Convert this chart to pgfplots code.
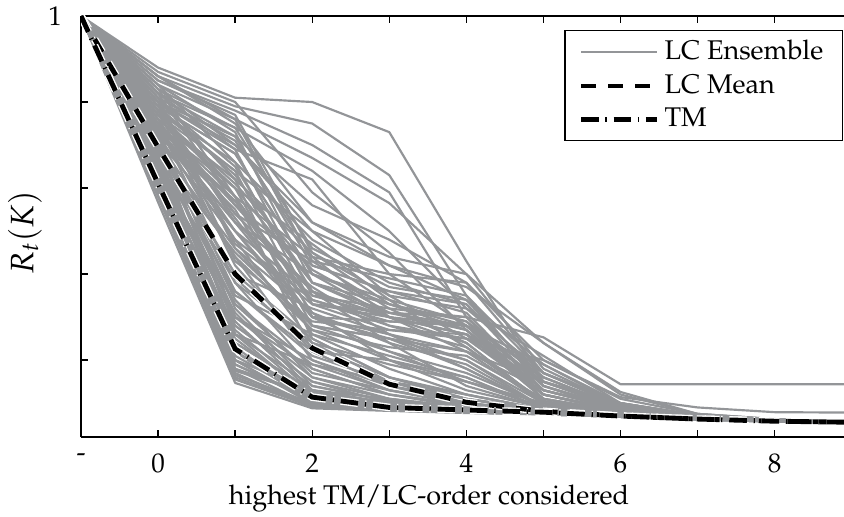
\documentclass[border=0pt]{standalone}
\usepackage[T1]{fontenc}
\usepackage{mathpazo}
\usepackage{pgfplots}
\pgfplotsset{compat=1.18}
\definecolor{ensgray}{RGB}{147,149,152}
\pgfplotsset{ens/.style={ensgray, line width=0.8pt, line join=round, forget plot}}
\tikzset{meanst/.style={black, line width=1.8pt, dash pattern=on 5.5pt off 4.5pt}}
\tikzset{tmst/.style={black, line width=1.8pt, dash pattern=on 6.5pt off 2.5pt on 0.5pt off 2.5pt}}
\begin{document}
\begin{tikzpicture}
\begin{axis}[
  name=ax, scale only axis, width=282.3pt, height=155.8pt,
  xmin=-1, xmax=8.9, ymin=0.021, ymax=1,
  axis y line*=left, axis x line*=box,
  xtick={-1,0,1,2,3,4,5,6,7,8}, xticklabels={-,0,,2,,4,,6,,8},
  ytick={0.2,0.4,0.6,0.8,1}, yticklabels={,,,,1},
  major tick length=2.5pt,
  tick style={black, line width=0.5pt},
  axis line style={black, line width=0.5pt, -},
  xlabel={highest TM/LC-order considered},
  ylabel={$R_t(K)$},
  every axis x label/.style={at={(axis description cs:0.456,-0.145)}, anchor=center},
  every axis y label/.style={at={(axis description cs:-0.0735,0.4846)}, anchor=center, rotate=90, font=\large},
  xticklabel style={yshift=-2.6pt},
  yticklabel style={xshift=-3.5pt},
  legend cell align=left,
  legend style={at={(rel axis cs:1,1)}, anchor=north east, xshift=-0.4pt, yshift=-5.2pt,
    draw=black, line width=0.5pt, inner xsep=5pt, inner ysep=1.5pt, font=\normalsize},
  legend image code/.code={\draw[#1] (0pt,0pt) -- (28pt,0pt);},
]
\addlegendimage{ensgray, line width=0.8pt}\addlegendentry{LC Ensemble}
\addlegendimage{meanst}\addlegendentry{LC Mean}
\addlegendimage{tmst}\addlegendentry{TM}
% ---- LC ensemble: low group
\addplot[ens] coordinates {(-1,1)(0,.567)(1,.147)(2,.088)(3,.082)(4,.077)(5,.074)(6,.068)(7,.062)(8,.057)(9,.054)};
\addplot[ens] coordinates {(-1,1)(0,.58)(1,.155)(2,.092)(3,.084)(4,.078)(5,.075)(6,.069)(7,.063)(8,.058)(9,.055)};
\addplot[ens] coordinates {(-1,1)(0,.60)(1,.16)(2,.095)(3,.086)(4,.079)(5,.077)(6,.070)(7,.064)(8,.059)(9,.056)};
\addplot[ens] coordinates {(-1,1)(0,.59)(1,.17)(2,.090)(3,.083)(4,.078)(5,.074)(6,.068)(7,.062)(8,.057)(9,.054)};
\addplot[ens] coordinates {(-1,1)(0,.62)(1,.165)(2,.10)(3,.088)(4,.080)(5,.075)(6,.069)(7,.063)(8,.058)(9,.055)};
\addplot[ens] coordinates {(-1,1)(0,.61)(1,.18)(2,.094)(3,.085)(4,.079)(5,.077)(6,.070)(7,.064)(8,.059)(9,.056)};
\addplot[ens] coordinates {(-1,1)(0,.64)(1,.19)(2,.105)(3,.09)(4,.081)(5,.079)(6,.072)(7,.065)(8,.060)(9,.057)};
\addplot[ens] coordinates {(-1,1)(0,.60)(1,.20)(2,.098)(3,.087)(4,.080)(5,.075)(6,.069)(7,.063)(8,.058)(9,.055)};
\addplot[ens] coordinates {(-1,1)(0,.63)(1,.21)(2,.11)(3,.092)(4,.082)(5,.077)(6,.070)(7,.064)(8,.059)(9,.056)};
\addplot[ens] coordinates {(-1,1)(0,.66)(1,.20)(2,.10)(3,.089)(4,.080)(5,.074)(6,.068)(7,.062)(8,.057)(9,.054)};
\addplot[ens] coordinates {(-1,1)(0,.62)(1,.22)(2,.12)(3,.095)(4,.083)(5,.079)(6,.072)(7,.065)(8,.060)(9,.057)};
\addplot[ens] coordinates {(-1,1)(0,.65)(1,.23)(2,.105)(3,.09)(4,.081)(5,.075)(6,.069)(7,.063)(8,.058)(9,.055)};
\addplot[ens] coordinates {(-1,1)(0,.68)(1,.24)(2,.13)(3,.10)(4,.085)(5,.081)(6,.073)(7,.066)(8,.060)(9,.057)};
\addplot[ens] coordinates {(-1,1)(0,.64)(1,.25)(2,.115)(3,.093)(4,.082)(5,.077)(6,.070)(7,.064)(8,.059)(9,.056)};
\addplot[ens] coordinates {(-1,1)(0,.67)(1,.26)(2,.14)(3,.105)(4,.088)(5,.079)(6,.072)(7,.065)(8,.060)(9,.057)};
\addplot[ens] coordinates {(-1,1)(0,.63)(1,.27)(2,.12)(3,.095)(4,.083)(5,.075)(6,.069)(7,.063)(8,.058)(9,.055)};
\addplot[ens] coordinates {(-1,1)(0,.70)(1,.28)(2,.15)(3,.11)(4,.09)(5,.081)(6,.073)(7,.066)(8,.060)(9,.057)};
\addplot[ens] coordinates {(-1,1)(0,.66)(1,.29)(2,.125)(3,.097)(4,.084)(5,.077)(6,.070)(7,.064)(8,.059)(9,.056)};
\addplot[ens] coordinates {(-1,1)(0,.69)(1,.30)(2,.16)(3,.12)(4,.095)(5,.079)(6,.072)(7,.065)(8,.060)(9,.057)};
\addplot[ens] coordinates {(-1,1)(0,.65)(1,.31)(2,.13)(3,.10)(4,.085)(5,.074)(6,.068)(7,.062)(8,.057)(9,.054)};
\addplot[ens] coordinates {(-1,1)(0,.72)(1,.32)(2,.14)(3,.105)(4,.088)(5,.075)(6,.069)(7,.063)(8,.058)(9,.055)};
\addplot[ens] coordinates {(-1,1)(0,.68)(1,.33)(2,.17)(3,.13)(4,.10)(5,.081)(6,.073)(7,.066)(8,.060)(9,.057)};
\addplot[ens] coordinates {(-1,1)(0,.61)(1,.24)(2,.13)(3,.098)(4,.084)(5,.077)(6,.070)(7,.064)(8,.059)(9,.056)};
\addplot[ens] coordinates {(-1,1)(0,.59)(1,.19)(2,.11)(3,.09)(4,.08)(5,.075)(6,.069)(7,.063)(8,.058)(9,.055)};
\addplot[ens] coordinates {(-1,1)(0,.70)(1,.22)(2,.10)(3,.088)(4,.08)(5,.074)(6,.068)(7,.062)(8,.057)(9,.054)};
\addplot[ens] coordinates {(-1,1)(0,.58)(1,.175)(2,.12)(3,.095)(4,.083)(5,.079)(6,.072)(7,.065)(8,.060)(9,.057)};
\addplot[ens] coordinates {(-1,1)(0,.73)(1,.26)(2,.11)(3,.09)(4,.081)(5,.077)(6,.070)(7,.064)(8,.059)(9,.056)};
\addplot[ens] coordinates {(-1,1)(0,.63)(1,.30)(2,.18)(3,.12)(4,.09)(5,.081)(6,.073)(7,.066)(8,.060)(9,.057)};
\addplot[ens] coordinates {(-1,1)(0,.71)(1,.34)(2,.16)(3,.11)(4,.087)(5,.075)(6,.069)(7,.063)(8,.058)(9,.055)};
\addplot[ens] coordinates {(-1,1)(0,.60)(1,.28)(2,.15)(3,.10)(4,.085)(5,.077)(6,.070)(7,.064)(8,.059)(9,.056)};
\addplot[ens] coordinates {(-1,1)(0,.67)(1,.20)(2,.13)(3,.11)(4,.09)(5,.079)(6,.072)(7,.065)(8,.060)(9,.057)};
\addplot[ens] coordinates {(-1,1)(0,.74)(1,.30)(2,.20)(3,.14)(4,.10)(5,.081)(6,.073)(7,.066)(8,.060)(9,.057)};
\addplot[ens] coordinates {(-1,1)(0,.62)(1,.26)(2,.19)(3,.15)(4,.11)(5,.079)(6,.072)(7,.065)(8,.060)(9,.057)};
\addplot[ens] coordinates {(-1,1)(0,.69)(1,.18)(2,.12)(3,.10)(4,.086)(5,.075)(6,.069)(7,.063)(8,.058)(9,.055)};
% ---- LC ensemble: middle group
\addplot[ens] coordinates {(-1,1)(0,.72)(1,.36)(2,.22)(3,.14)(4,.10)(5,.082)(6,.072)(7,.065)(8,.060)(9,.057)};
\addplot[ens] coordinates {(-1,1)(0,.75)(1,.38)(2,.18)(3,.12)(4,.095)(5,.08)(6,.071)(7,.064)(8,.059)(9,.056)};
\addplot[ens] coordinates {(-1,1)(0,.70)(1,.40)(2,.25)(3,.16)(4,.11)(5,.085)(6,.073)(7,.065)(8,.060)(9,.057)};
\addplot[ens] coordinates {(-1,1)(0,.78)(1,.42)(2,.22)(3,.20)(4,.13)(5,.09)(6,.075)(7,.066)(8,.060)(9,.057)};
\addplot[ens] coordinates {(-1,1)(0,.74)(1,.44)(2,.20)(3,.13)(4,.095)(5,.08)(6,.071)(7,.064)(8,.059)(9,.056)};
\addplot[ens] coordinates {(-1,1)(0,.68)(1,.45)(2,.28)(3,.22)(4,.15)(5,.10)(6,.078)(7,.066)(8,.060)(9,.057)};
\addplot[ens] coordinates {(-1,1)(0,.80)(1,.47)(2,.33)(3,.30)(4,.26)(5,.12)(6,.085)(7,.068)(8,.061)(9,.057)};
\addplot[ens] coordinates {(-1,1)(0,.76)(1,.48)(2,.24)(3,.15)(4,.10)(5,.082)(6,.072)(7,.065)(8,.059)(9,.056)};
\addplot[ens] coordinates {(-1,1)(0,.71)(1,.50)(2,.28)(3,.25)(4,.22)(5,.10)(6,.077)(7,.066)(8,.060)(9,.057)};
\addplot[ens] coordinates {(-1,1)(0,.79)(1,.52)(2,.30)(3,.25)(4,.18)(5,.09)(6,.074)(7,.065)(8,.059)(9,.056)};
\addplot[ens] coordinates {(-1,1)(0,.77)(1,.53)(2,.30)(3,.29)(4,.28)(5,.17)(6,.10)(7,.072)(8,.062)(9,.058)};
\addplot[ens] coordinates {(-1,1)(0,.73)(1,.55)(2,.26)(3,.18)(4,.12)(5,.085)(6,.073)(7,.065)(8,.059)(9,.056)};
\addplot[ens] coordinates {(-1,1)(0,.82)(1,.56)(2,.36)(3,.30)(4,.28)(5,.15)(6,.09)(7,.070)(8,.061)(9,.057)};
\addplot[ens] coordinates {(-1,1)(0,.75)(1,.58)(2,.33)(3,.27)(4,.25)(5,.20)(6,.11)(7,.075)(8,.063)(9,.058)};
\addplot[ens] coordinates {(-1,1)(0,.69)(1,.40)(2,.32)(3,.26)(4,.20)(5,.09)(6,.075)(7,.065)(8,.059)(9,.056)};
\addplot[ens] coordinates {(-1,1)(0,.81)(1,.46)(2,.27)(3,.23)(4,.21)(5,.11)(6,.08)(7,.067)(8,.060)(9,.057)};
\addplot[ens] coordinates {(-1,1)(0,.76)(1,.50)(2,.30)(3,.26)(4,.22)(5,.13)(6,.085)(7,.068)(8,.060)(9,.057)};
\addplot[ens] coordinates {(-1,1)(0,.70)(1,.35)(2,.26)(3,.21)(4,.16)(5,.085)(6,.073)(7,.065)(8,.059)(9,.056)};
\addplot[ens] coordinates {(-1,1)(0,.78)(1,.54)(2,.36)(3,.24)(4,.14)(5,.088)(6,.074)(7,.065)(8,.059)(9,.056)};
\addplot[ens] coordinates {(-1,1)(0,.74)(1,.60)(2,.38)(3,.30)(4,.26)(5,.12)(6,.082)(7,.067)(8,.060)(9,.057)};
\addplot[ens] coordinates {(-1,1)(0,.80)(1,.43)(2,.29)(3,.27)(4,.26)(5,.16)(6,.09)(7,.069)(8,.061)(9,.057)};
\addplot[ens] coordinates {(-1,1)(0,.72)(1,.57)(2,.31)(3,.20)(4,.15)(5,.10)(6,.078)(7,.066)(8,.060)(9,.057)};
% ---- LC ensemble: upper-middle group
\addplot[ens] coordinates {(-1,1)(0,.80)(1,.72)(2,.42)(3,.36)(4,.33)(5,.16)(6,.09)(7,.069)(8,.061)(9,.057)};
\addplot[ens] coordinates {(-1,1)(0,.83)(1,.70)(2,.52)(3,.44)(4,.40)(5,.18)(6,.095)(7,.07)(8,.061)(9,.057)};
\addplot[ens] coordinates {(-1,1)(0,.78)(1,.66)(2,.48)(3,.38)(4,.33)(5,.14)(6,.088)(7,.068)(8,.060)(9,.057)};
\addplot[ens] coordinates {(-1,1)(0,.85)(1,.77)(2,.45)(3,.33)(4,.28)(5,.11)(6,.08)(7,.067)(8,.060)(9,.057)};
\addplot[ens] coordinates {(-1,1)(0,.76)(1,.62)(2,.45)(3,.35)(4,.32)(5,.21)(6,.10)(7,.071)(8,.062)(9,.058)};
\addplot[ens] coordinates {(-1,1)(0,.79)(1,.68)(2,.40)(3,.34)(4,.29)(5,.12)(6,.082)(7,.067)(8,.060)(9,.057)};
\addplot[ens] coordinates {(-1,1)(0,.82)(1,.74)(2,.46)(3,.37)(4,.34)(5,.15)(6,.09)(7,.069)(8,.061)(9,.057)};
\addplot[ens] coordinates {(-1,1)(0,.75)(1,.56)(2,.42)(3,.36)(4,.31)(5,.13)(6,.085)(7,.068)(8,.060)(9,.057)};
\addplot[ens] coordinates {(-1,1)(0,.77)(1,.64)(2,.50)(3,.42)(4,.37)(5,.24)(6,.12)(7,.075)(8,.063)(9,.058)};
\addplot[ens] coordinates {(-1,1)(0,.81)(1,.71)(2,.44)(3,.40)(4,.38)(5,.17)(6,.095)(7,.07)(8,.061)(9,.057)};
\addplot[ens] coordinates {(-1,1)(0,.74)(1,.52)(2,.40)(3,.33)(4,.27)(5,.11)(6,.08)(7,.067)(8,.060)(9,.057)};
\addplot[ens] coordinates {(-1,1)(0,.78)(1,.58)(2,.44)(3,.30)(4,.24)(5,.10)(6,.078)(7,.066)(8,.060)(9,.057)};
\addplot[ens] coordinates {(-1,1)(0,.80)(1,.65)(2,.36)(3,.28)(4,.25)(5,.12)(6,.082)(7,.067)(8,.060)(9,.057)};
\addplot[ens] coordinates {(-1,1)(0,.73)(1,.50)(2,.35)(3,.32)(4,.30)(5,.14)(6,.086)(7,.068)(8,.060)(9,.057)};
\addplot[ens] coordinates {(-1,1)(0,.84)(1,.73)(2,.38)(3,.31)(4,.28)(5,.12)(6,.08)(7,.067)(8,.060)(9,.057)};
\addplot[ens] coordinates {(-1,1)(0,.76)(1,.60)(2,.47)(3,.34)(4,.23)(5,.10)(6,.077)(7,.066)(8,.060)(9,.057)};
\addplot[ens] coordinates {(-1,1)(0,.72)(1,.48)(2,.34)(3,.28)(4,.23)(5,.105)(6,.078)(7,.066)(8,.060)(9,.057)};
\addplot[ens] coordinates {(-1,1)(0,.79)(1,.63)(2,.38)(3,.33)(4,.29)(5,.16)(6,.09)(7,.069)(8,.061)(9,.057)};
\addplot[ens] coordinates {(-1,1)(0,.75)(1,.54)(2,.43)(3,.39)(4,.35)(5,.17)(6,.092)(7,.069)(8,.061)(9,.057)};
\addplot[ens] coordinates {(-1,1)(0,.82)(1,.69)(2,.35)(3,.30)(4,.26)(5,.11)(6,.08)(7,.067)(8,.060)(9,.057)};
\addplot[ens] coordinates {(-1,1)(0,.70)(1,.46)(2,.31)(3,.24)(4,.19)(5,.09)(6,.075)(7,.065)(8,.059)(9,.056)};
\addplot[ens] coordinates {(-1,1)(0,.77)(1,.61)(2,.41)(3,.31)(4,.27)(5,.13)(6,.085)(7,.068)(8,.060)(9,.057)};
\addplot[ens] coordinates {(-1,1)(0,.73)(1,.52)(2,.37)(3,.26)(4,.18)(5,.09)(6,.075)(7,.065)(8,.059)(9,.056)};
\addplot[ens] coordinates {(-1,1)(0,.86)(1,.76)(2,.43)(3,.32)(4,.24)(5,.10)(6,.078)(7,.066)(8,.060)(9,.057)};
\addplot[ens] coordinates {(-1,1)(0,.71)(1,.44)(2,.27)(3,.20)(4,.16)(5,.088)(6,.074)(7,.065)(8,.059)(9,.056)};
\addplot[ens] coordinates {(-1,1)(0,.74)(1,.57)(2,.34)(3,.29)(4,.28)(5,.19)(6,.10)(7,.071)(8,.062)(9,.058)};
\addplot[ens] coordinates {(-1,1)(0,.69)(1,.38)(2,.24)(3,.19)(4,.15)(5,.09)(6,.075)(7,.065)(8,.059)(9,.056)};
\addplot[ens] coordinates {(-1,1)(0,.66)(1,.36)(2,.21)(3,.15)(4,.12)(5,.085)(6,.073)(7,.065)(8,.059)(9,.056)};
\addplot[ens] coordinates {(-1,1)(0,.64)(1,.33)(2,.19)(3,.13)(4,.10)(5,.08)(6,.071)(7,.064)(8,.059)(9,.056)};
\addplot[ens] coordinates {(-1,1)(0,.67)(1,.39)(2,.23)(3,.16)(4,.11)(5,.082)(6,.072)(7,.065)(8,.059)(9,.056)};
% ---- LC ensemble: high group
\addplot[ens] coordinates {(-1,1)(0,.88)(1,.81)(2,.80)(3,.73)(4,.43)(5,.15)(6,.085)(7,.068)(8,.060)(9,.057)};
\addplot[ens] coordinates {(-1,1)(0,.86)(1,.79)(2,.75)(3,.63)(4,.35)(5,.14)(6,.08)(7,.067)(8,.060)(9,.057)};
\addplot[ens] coordinates {(-1,1)(0,.85)(1,.78)(2,.70)(3,.59)(4,.30)(5,.253)(6,.144)(7,.144)(8,.144)(9,.144)};
\addplot[ens] coordinates {(-1,1)(0,.84)(1,.76)(2,.67)(3,.565)(4,.40)(5,.24)(6,.126)(7,.075)(8,.062)(9,.058)};
\addplot[ens] coordinates {(-1,1)(0,.83)(1,.74)(2,.64)(3,.50)(4,.32)(5,.17)(6,.10)(7,.072)(8,.062)(9,.058)};
\addplot[ens] coordinates {(-1,1)(0,.87)(1,.80)(2,.59)(3,.45)(4,.27)(5,.12)(6,.08)(7,.067)(8,.060)(9,.057)};
\addplot[ens] coordinates {(-1,1)(0,.82)(1,.72)(2,.56)(3,.48)(4,.38)(5,.20)(6,.114)(7,.09)(8,.079)(9,.078)};
\addplot[ens] coordinates {(-1,1)(0,.80)(1,.70)(2,.50)(3,.35)(4,.25)(5,.15)(6,.10)(7,.072)(8,.062)(9,.058)};
\addplot[ens] coordinates {(-1,1)(0,.79)(1,.68)(2,.40)(3,.30)(4,.22)(5,.149)(6,.09)(7,.07)(8,.061)(9,.057)};
\addplot[ens] coordinates {(-1,1)(0,.84)(1,.66)(2,.33)(3,.31)(4,.30)(5,.13)(6,.085)(7,.068)(8,.060)(9,.057)};
\addplot[ens] coordinates {(-1,1)(0,.78)(1,.64)(2,.30)(3,.22)(4,.17)(5,.095)(6,.076)(7,.066)(8,.060)(9,.057)};
\addplot[ens] coordinates {(-1,1)(0,.81)(1,.62)(2,.25)(3,.16)(4,.12)(5,.085)(6,.073)(7,.065)(8,.059)(9,.056)};
\addplot[ens] coordinates {(-1,1)(0,.77)(1,.60)(2,.28)(3,.25)(4,.20)(5,.10)(6,.078)(7,.066)(8,.060)(9,.057)};
\addplot[ens] coordinates {(-1,1)(0,.86)(1,.75)(2,.52)(3,.42)(4,.34)(5,.19)(6,.095)(7,.07)(8,.061)(9,.057)};
\addplot[ens] coordinates {(-1,1)(0,.80)(1,.69)(2,.62)(3,.40)(4,.28)(5,.13)(6,.088)(7,.068)(8,.060)(9,.057)};
\addplot[ens] coordinates {(-1,1)(0,.83)(1,.58)(2,.22)(3,.14)(4,.11)(5,.085)(6,.073)(7,.065)(8,.059)(9,.056)};
% ---- LC mean
\addplot[white, line width=2.8pt, dash pattern=on 5.5pt off 4.5pt, forget plot] coordinates {(-1,1)(0,.695)(1,.40)(2,.228)(3,.144)(4,.102)(5,.081)(6,.070)(7,.063)(8,.058)(9,.0555)};
\addplot[meanst, forget plot] coordinates {(-1,1)(0,.695)(1,.40)(2,.228)(3,.144)(4,.102)(5,.081)(6,.070)(7,.063)(8,.058)(9,.0555)};
% ---- TM
\addplot[white, line width=2.8pt, dash pattern=on 6.5pt off 2.5pt on 0.5pt off 2.5pt, forget plot] coordinates {(-1,1)(0,.61)(1,.226)(2,.114)(3,.09)(4,.084)(5,.079)(6,.070)(7,.063)(8,.058)(9,.0555)};
\addplot[tmst, forget plot] coordinates {(-1,1)(0,.61)(1,.226)(2,.114)(3,.09)(4,.084)(5,.079)(6,.070)(7,.063)(8,.058)(9,.0555)};
\end{axis}
\pgfresetboundingbox
\path[use as bounding box] ([shift={(-29.97pt,-29.23pt)}]ax.south west) rectangle ([shift={(0pt,5.92pt)}]ax.north east);
\end{tikzpicture}
\end{document}
